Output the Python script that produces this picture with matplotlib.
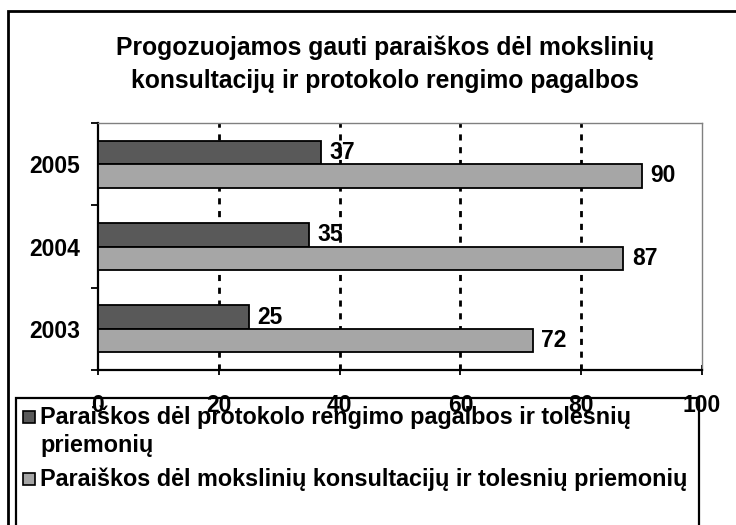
import matplotlib
matplotlib.use("Agg")
import matplotlib.pyplot as plt
from matplotlib.patches import Rectangle
import numpy as np

plt.rcParams['font.family'] = ['Liberation Sans', 'DejaVu Sans']
plt.rcParams['font.weight'] = 'bold'

years = ['2003', '2004', '2005']
protokolo = [25, 35, 37]
konsultaciju = [72, 87, 90]
series_labels = ['Paraiškos dėl protokolo rengimo pagalbos ir tolesnių\npriemonių',
                 'Paraiškos dėl mokslinių konsultacijų ir tolesnių priemonių']
title = 'Progozuojamos gauti paraiškos dėl mokslinių\nkonsultacijų ir protokolo rengimo pagalbos'

W, H = 736, 525
DARK = '#595959'
LIGHT = '#a6a6a6'
FS = 16.5

fig = plt.figure(figsize=(W / 100, H / 100), dpi=100)


def fx(px):
    return px / W


def fy(py):
    return 1 - py / H


# outer chart border (runs off the right/bottom edge like the source)
fig.add_artist(Rectangle((fx(8), fy(700)), fx(900), fy(11) - fy(700),
                         transform=fig.transFigure, fill=False, lw=2, ec='black'))

ax = fig.add_axes([fx(98), fy(370), fx(702) - fx(98), fy(123) - fy(370)])

y = np.arange(len(years))
h = 0.285
ax.barh(y + h / 2, protokolo, height=h, color=DARK, edgecolor='black', lw=1.3, zorder=3)
ax.barh(y - h / 2, konsultaciju, height=h, color=LIGHT, edgecolor='black', lw=1.3, zorder=3)

for yi, v in zip(y, protokolo):
    ax.annotate(str(v), (v, yi + h / 2), xytext=(6, 0), textcoords='offset points',
                va='center', ha='left', fontsize=FS, fontweight='bold', zorder=4)
for yi, v in zip(y, konsultaciju):
    ax.annotate(str(v), (v, yi - h / 2), xytext=(6, 0), textcoords='offset points',
                va='center', ha='left', fontsize=FS, fontweight='bold', zorder=4)

ax.set_xlim(0, 100)
ax.set_ylim(-0.5, 2.5)
ax.set_xticks([0, 20, 40, 60, 80, 100])
ax.set_xticklabels(['0', '20', '40', '60', '80', '100'], fontsize=FS, fontweight='bold')
ax.tick_params(axis='x', direction='inout', length=7, width=1.3, pad=14)

ax.set_yticks([-0.5, 0.5, 1.5, 2.5])
ax.set_yticklabels([])
ax.set_yticks(y, minor=True)
ax.set_yticklabels(years, minor=True, fontsize=FS, fontweight='bold')
ax.tick_params(axis='y', which='major', direction='out', length=5, width=1.3)
ax.tick_params(axis='y', which='minor', length=0, pad=13)

for gx in [20, 40, 60, 80]:
    ax.axvline(gx, color='black', lw=2.0, ls=(0, (2.2, 2.4)), zorder=1)

ax.spines['left'].set_linewidth(1.6)
ax.spines['bottom'].set_linewidth(1.6)
ax.spines['top'].set_color('#808080')
ax.spines['top'].set_linewidth(1.0)
ax.spines['right'].set_color('#808080')
ax.spines['right'].set_linewidth(1.0)
ax.spines['right'].set_linestyle((0, (3, 1)))

fig.text(fx(385), fy(64), title, ha='center', va='center', fontsize=17.8,
         fontweight='bold', linespacing=1.45)

# legend box
fig.add_artist(Rectangle((fx(16), fy(700)), fx(699) - fx(16), fy(398) - fy(700),
                         transform=fig.transFigure, fill=False, lw=1.6, ec='black', zorder=5))
legend_colors = [DARK, LIGHT]
baseline = 424
for col, lab in zip(legend_colors, series_labels):
    fig.add_artist(Rectangle((fx(23), fy(baseline - 1)), fx(12), fy(baseline - 13) - fy(baseline - 1),
                             transform=fig.transFigure, fc=col, ec='black', lw=1.2, zorder=6))
    for line in lab.split('\n'):
        fig.text(fx(40), fy(baseline), line, ha='left', va='baseline',
                 fontsize=16.8, fontweight='bold', zorder=6)
        baseline += 28
    baseline += 6

fig.savefig('out.png', dpi=100)
